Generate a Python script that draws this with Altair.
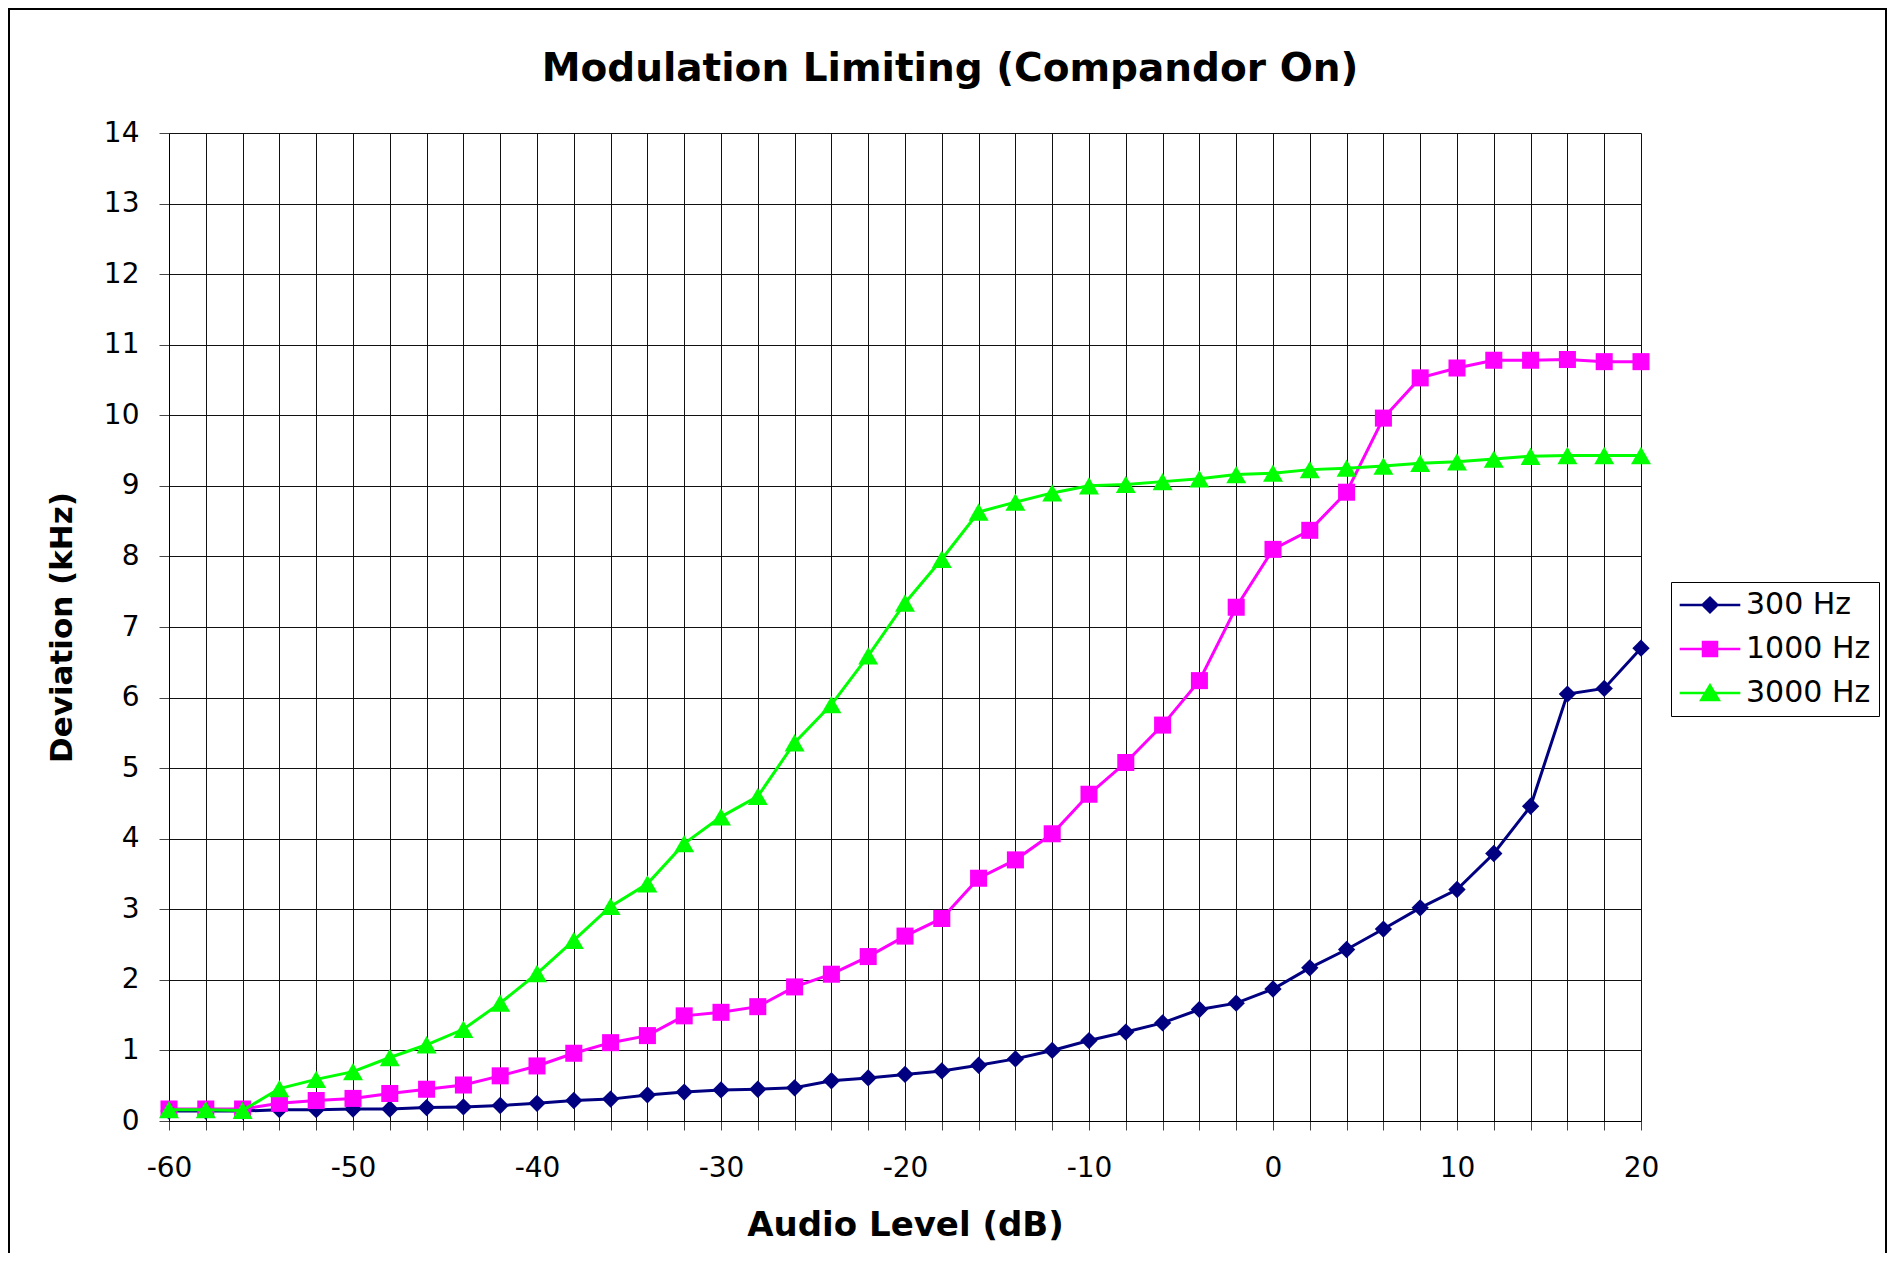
import altair as alt
import pandas as pd

# ---------------- data ----------------
x_db = list(range(-60, 21, 2))

dev_300 = [0.14, 0.14, 0.14, 0.16, 0.16, 0.17, 0.17, 0.19, 0.20, 0.22,
           0.25, 0.29, 0.31, 0.37, 0.41, 0.44, 0.45, 0.47, 0.57, 0.61,
           0.66, 0.71, 0.79, 0.88, 1.00, 1.14, 1.26, 1.39, 1.58, 1.67,
           1.87, 2.17, 2.43, 2.72, 3.02, 3.28, 3.79, 4.46, 6.05, 6.13, 6.70]

dev_1000 = [0.17, 0.17, 0.17, 0.25, 0.29, 0.32, 0.39, 0.45, 0.51, 0.64,
            0.78, 0.96, 1.11, 1.21, 1.49, 1.54, 1.62, 1.90, 2.08, 2.33,
            2.62, 2.87, 3.44, 3.70, 4.07, 4.63, 5.08, 5.61, 6.24, 7.28,
            8.10, 8.37, 8.91, 9.96, 10.53, 10.67, 10.78, 10.78, 10.79, 10.76, 10.76]

dev_3000 = [0.16, 0.16, 0.15, 0.46, 0.59, 0.70, 0.90, 1.08, 1.30, 1.67,
            2.09, 2.56, 3.04, 3.36, 3.93, 4.31, 4.60, 5.36, 5.90, 6.59,
            7.34, 7.96, 8.63, 8.77, 8.90, 9.00, 9.02, 9.06, 9.10, 9.16,
            9.18, 9.23, 9.25, 9.28, 9.32, 9.34, 9.38, 9.42, 9.43, 9.43, 9.43]

series_names = ["300 Hz", "1000 Hz", "3000 Hz"]
series_colors = ["#000080", "#FF00FF", "#00FF00"]
x_ticks = list(range(-60, 21, 2))
y_ticks = list(range(0, 15))

rows = []
for name, vals in zip(series_names, [dev_300, dev_1000, dev_3000]):
    for xv, yv in zip(x_db, vals):
        rows.append({"level": xv, "deviation": yv, "series": name})
df = pd.DataFrame(rows)

# ---------------- styling ----------------
FONT = "DejaVu Sans"
W, H = 1472, 988
PAD = {"left": 161, "top": 125, "right": 247, "bottom": 132}

color_scale = alt.Scale(domain=series_names, range=series_colors)

x_enc = alt.X(
    "level:Q",
    scale=alt.Scale(domain=[-60, 20], nice=False, zero=False),
    axis=alt.Axis(
        values=x_ticks,
        labelExpr="datum.value % 10 === 0 ? '' + datum.value : ''",
        title="Audio Level (dB)",
        titleFont=FONT, titleFontSize=34, titleFontWeight="bold", titleColor="black",
        titleBaseline="alphabetic", titleAlign="center", titleX=W / 2, titleY=114,
        labelFont=FONT, labelFontSize=28, labelColor="black",
        labelBaseline="alphabetic", labelPadding=46, labelOverlap=False, labelFlush=False,
        tickSize=9, tickColor="#444444", tickWidth=1,
        grid=True, gridColor="#111111", gridWidth=1, gridOpacity=1,
        domainColor="black", domainWidth=1,
    ),
)
y_enc = alt.Y(
    "deviation:Q",
    scale=alt.Scale(domain=[0, 14], nice=False, zero=True),
    axis=alt.Axis(
        values=y_ticks,
        title="Deviation (kHz)",
        titleFont=FONT, titleFontSize=31, titleFontWeight="bold", titleColor="black",
        titleAngle=270, titleBaseline="alphabetic", titleAlign="center",
        titleX=-98, titleY=H / 2,
        labelFont=FONT, labelFontSize=28, labelColor="black",
        labelPadding=20, labelOverlap=False, labelFlush=False,
        tickSize=10, tickColor="#444444", tickWidth=1,
        grid=True, gridColor="#111111", gridWidth=1, gridOpacity=1,
        domainColor="black", domainWidth=1,
    ),
)

base = alt.Chart(df)

shapes = ["diamond", "square", "triangle-up"]
sizes = [300, 290, 400]

# one legend (line through marker), shared by the merged channels
leg = alt.Legend(
    orient="none", legendX=1502, legendY=449, title=None,
    labelFont=FONT, labelFontSize=30, labelColor="black",
    symbolSize=196, symbolStrokeWidth=2.5, symbolOffset=16, labelOffset=21,
    symbolOpacity=1,
    padding=8, rowPadding=14,
    strokeColor="black", fillColor="white",
)

layers = []
for i, name in enumerate(series_names):
    sub = base.transform_filter(alt.datum.series == name)
    line = sub.mark_line(strokeWidth=3).encode(
        x=x_enc, y=y_enc,
        color=alt.Color("series:N", scale=color_scale,
                        legend=leg if i == 0 else None),
    )
    pts = sub.mark_point(shape=shapes[i], size=sizes[i], filled=True,
                         opacity=1, strokeWidth=0).encode(
        x=x_enc, y=y_enc,
        color=alt.Color("series:N", scale=color_scale, legend=None),
    )
    layers += [line, pts]

# custom legend symbols: a line with the series marker in its middle
legend_paths = [
    "M-4.33,0L4.33,0M-1.05,0L0,-1.05L1.05,0L0,1.05Z",
    "M-4.33,0L4.33,0M-1,-1L1,-1L1,1L-1,1Z",
    "M-4.33,0L4.33,0M0,-1.1L1.25,1L-1.25,1Z",
]
legend_layer = base.mark_point(filled=True, opacity=0).encode(
    x=x_enc, y=y_enc,
    fill=alt.Fill("series:N", scale=color_scale, legend=leg),
    stroke=alt.Stroke("series:N", scale=color_scale, legend=leg),
    shape=alt.Shape("series:N", scale=alt.Scale(domain=series_names, range=legend_paths), legend=leg),
)

# outer chart-area frame
frame = alt.Chart(alt.Data(values=[{"f": 1}])).mark_rect(
    filled=False, stroke="black", strokeWidth=2
).encode(
    x=alt.value(-160), x2=alt.value(1717), y=alt.value(-124), y2=alt.value(1160)
)

chart = alt.layer(frame, *layers, legend_layer).properties(
    width=W, height=H,
    padding=PAD,
    autosize=alt.AutoSizeParams(type="none"),
    title=alt.TitleParams(
        text="Modulation Limiting (Compandor On)",
        font=FONT, fontSize=39, fontWeight="bold", color="black",
        anchor="middle", frame="group", dx=45, offset=0, dy=112, baseline="alphabetic",
    ),
).configure_view(stroke="black", strokeWidth=1).configure(background="white")

chart.save("out.html", embed_options={"renderer": "svg", "actions": False})
